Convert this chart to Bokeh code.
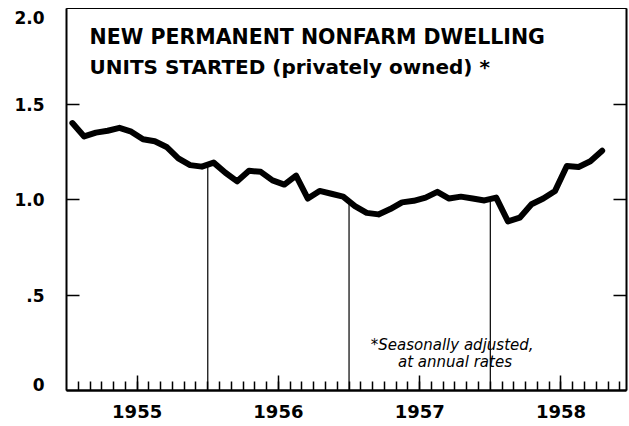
import numpy as np
from bokeh.plotting import figure
from bokeh.models import FixedTicker, LinearAxis, Label, Range1d
from bokeh.embed import file_html
from bokeh.resources import INLINE

# ---- data (millions of units, seasonally adjusted annual rates) ----
start_year = 1955
values = [
    1.40, 1.33, 1.35, 1.36, 1.375, 1.355, 1.315, 1.305, 1.275, 1.215, 1.18, 1.172,   # 1955
    1.193, 1.14, 1.095, 1.15, 1.145, 1.10, 1.078, 1.125, 1.005, 1.045, 1.03, 1.015,  # 1956
    0.965, 0.93, 0.922, 0.95, 0.985, 0.993, 1.01, 1.04, 1.005, 1.015, 1.005, 0.995,  # 1957
    1.01, 0.885, 0.905, 0.975, 1.005, 1.045, 1.175, 1.17, 1.20, 1.255,              # 1958
]
years = ["1955", "1956", "1957", "1958"]
y_ticks = [0.5, 1.0, 1.5]
y_label_values = [0.0, 0.5, 1.0, 1.5, 2.0]
y_label_texts = ["0", ".5", "1.0", "1.5", "2.0"]
title1 = "NEW PERMANENT NONFARM DWELLING"
title2 = "UNITS STARTED (privately owned) *"
note1 = "*Seasonally adjusted,"
note2 = "at annual rates"

# ---- derived positions ----
x = [start_year + (i + 0.5) / 12 for i in range(len(values))]
year_mid = [start_year + k + 0.5 for k in range(len(years))]
month_bounds = [start_year + k / 12 for k in range(1, 48)]
boundaries = [start_year + k for k in range(1, len(years))]
tops = [float(np.interp(b, x, values)) for b in boundaries]

W, H = 629, 426
BL, BR, BT, BB = 66, 3, 8, 36
Y0, Y1 = 0.0, 2.0
px_per_unit = (H - BT - BB) / (Y1 - Y0)
# the edge labels sit slightly inside the frame
edge_shift = {0.0: 6 / px_per_unit, 2.0: -9 / px_per_unit}
label_pos = [v + edge_shift.get(v, 0.0) for v in y_label_values]

FONT = "DejaVu Sans"

p = figure(width=W, height=H,
           x_range=Range1d(start_year, start_year + 3.964),
           y_range=Range1d(Y0, Y1),
           output_backend="svg", toolbar_location=None,
           min_border_left=BL, min_border_right=BR,
           min_border_top=BT, min_border_bottom=BB)
p.grid.visible = False
p.background_fill_color = "white"
p.border_fill_color = "white"
p.outline_line_color = "black"
p.outline_line_width = 1


def ticks_only(ax, ticks, tick_in):
    ax.ticker = FixedTicker(ticks=ticks)
    ax.major_label_overrides = {t: "" for t in ticks}
    ax.major_tick_in = tick_in
    ax.major_tick_out = 0
    ax.major_tick_line_width = 1.5
    ax.minor_tick_line_color = None
    ax.major_label_standoff = 0


# left axis: ticks (nearest to frame)
ya = p.yaxis[0]
ticks_only(ya, y_ticks, 13)
ya.axis_line_width = 2

# left axis: labels
la = LinearAxis(ticker=FixedTicker(ticks=label_pos))
la.major_label_overrides = {pos: t for pos, t in zip(label_pos, y_label_texts)}
la.major_tick_line_color = None
la.minor_tick_line_color = None
la.axis_line_color = None
la.major_label_standoff = 16
la.major_label_text_font = FONT
la.major_label_text_font_style = "bold"
la.major_label_text_font_size = "17px"
la.major_label_text_color = "black"
p.add_layout(la, "left")

# right axis (ticks only)
ra = LinearAxis()
ticks_only(ra, y_ticks, 13)
ra.axis_line_width = 2
p.add_layout(ra, "right")

# bottom axis
xa = p.xaxis[0]
xa.ticker = FixedTicker(ticks=year_mid, minor_ticks=month_bounds)
xa.major_label_overrides = {m: t for m, t in zip(year_mid, years)}
xa.major_tick_in = 15
xa.major_tick_out = 0
xa.minor_tick_in = 9
xa.minor_tick_out = 0
xa.major_tick_line_width = 1.5
xa.minor_tick_line_width = 1.5
xa.axis_line_width = 2.5
xa.major_label_standoff = 14
xa.major_label_text_font = FONT
xa.major_label_text_font_style = "bold"
xa.major_label_text_font_size = "18px"
xa.major_label_text_color = "black"

# year separator lines
p.segment(x0=boundaries, y0=[0] * len(boundaries), x1=boundaries, y1=tops,
          line_color="black", line_width=1.2)

# data line
p.line(x, values, line_color="black", line_width=6,
       line_join="round", line_cap="round")

# title
p.add_layout(Label(x=start_year + 0.163, y=1.853, text=title1,
                   text_baseline="middle", text_font=FONT, text_font_style="bold",
                   text_font_size="20.5px", text_color="black"))
p.add_layout(Label(x=start_year + 0.163, y=1.696, text=title2,
                   text_baseline="middle", text_font=FONT, text_font_style="bold",
                   text_font_size="20px", text_color="black"))

# footnote
p.add_layout(Label(x=start_year + 2.73, y=0.236, text=note1,
                   text_align="center", text_baseline="middle", text_font=FONT,
                   text_font_style="italic", text_font_size="15px", text_color="black"))
p.add_layout(Label(x=start_year + 2.75, y=0.147, text=note2,
                   text_align="center", text_baseline="middle", text_font=FONT,
                   text_font_style="italic", text_font_size="15px", text_color="black"))

open("out.html", "w").write(file_html(p, INLINE))
